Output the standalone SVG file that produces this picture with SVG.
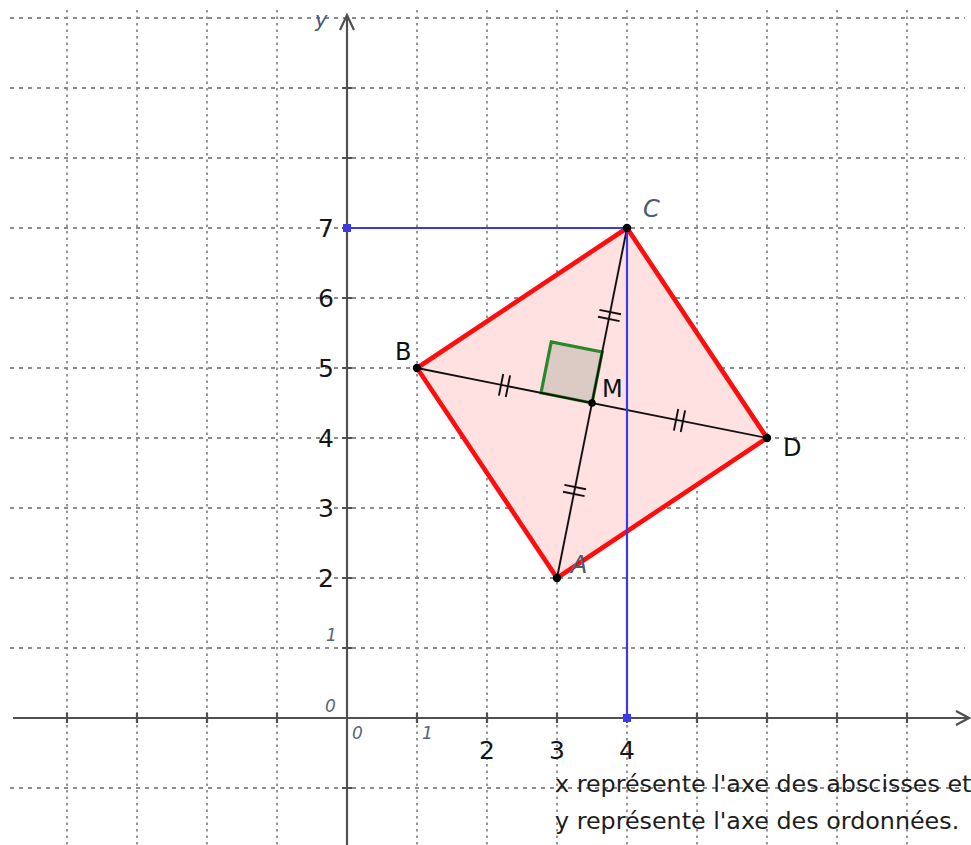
<svg xmlns="http://www.w3.org/2000/svg" width="971" height="845" viewBox="0 0 971 845">
<style>
.gv{stroke:#8c8c8c;stroke-width:1.8;stroke-dasharray:2.5 4;fill:none}
.gh{stroke:#8c8c8c;stroke-width:1.8;stroke-dasharray:4 5;fill:none}
.ax{stroke:#505050;stroke-width:2.2;fill:none}
.tk{stroke:#505050;stroke-width:2.2}
.seg{stroke:#111;stroke-width:1.9;fill:none}
.blue{stroke:#3b3be6;stroke-width:2.2;fill:none}
.num{font-family:"DejaVu Sans","Liberation Sans",sans-serif;font-size:25px;fill:#151515}
.sm{font-family:"DejaVu Sans","Liberation Sans",sans-serif;font-size:17px;font-style:italic;fill:#56657c}
.ital{font-family:"DejaVu Sans","Liberation Sans",sans-serif;font-size:24px;font-style:italic;fill:#4a5b76}
.lbl{font-family:"DejaVu Sans","Liberation Sans",sans-serif;font-size:24px;fill:#111}
.txt{font-family:"DejaVu Sans","Liberation Sans",sans-serif;font-size:23.8px;fill:#1e1e1e}
</style>
<rect width="971" height="845" fill="#ffffff"/>
<g id="grid">
<path class="gv" d="M67 10V845M137 10V845M207 10V845M277 10V845M417 10V845M487 10V845M557 10V845M627 10V845M697 10V845M767 10V845M837 10V845M907 10V845"/>
<path class="gh" d="M10 18H965M10 88H965M10 158H965M10 228H965M10 298H965M10 368H965M10 438H965M10 508H965M10 578H965M10 648H965M10 788H965"/>
</g>
<g id="axes">
<path class="ax" d="M13 718H969M956 711L969 718L956 725"/>
<path class="ax" d="M347 845V15M340 30L347 15L354 30"/>
<path class="tk" d="M67 713V723M137 713V723M207 713V723M277 713V723M417 713V723M487 713V723M557 713V723M627 713V723M697 713V723M767 713V723M837 713V723M907 713V723"/>
<path class="tk" d="M342 88H352M342 158H352M342 228H352M342 298H352M342 368H352M342 438H352M342 508H352M342 578H352M342 648H352M342 788H352"/>
<text class="ital" x="315" y="27" style="font-size:21px">y</text>
<text class="sm" x="325" y="712">0</text>
<text class="sm" x="352" y="739">0</text>
<text class="sm" x="422" y="739">1</text>
<text class="sm" x="326" y="641">1</text>
<g class="num" text-anchor="end">
<text x="334" y="237">7</text>
<text x="334" y="307">6</text>
<text x="334" y="377">5</text>
<text x="334" y="447">4</text>
<text x="334" y="517">3</text>
<text x="334" y="587">2</text>
</g>
<g class="num" text-anchor="middle">
<text x="487" y="759">2</text>
<text x="557" y="759">3</text>
<text x="627" y="759">4</text>
</g>
</g>
<g id="quad-ABCD">
<polygon points="557,578 417,368 627,228 767,438" fill="#ffe1e1" stroke="#ff0d0d" stroke-width="4.6" stroke-linejoin="miter"/>
</g>
<g id="right-angle">
<polygon points="592,403 541.04,392.81 551.23,341.85 602.19,352.04" fill="#dccac4" stroke="#2a882a" stroke-width="3.2"/>
</g>
<g id="connectors">
<path class="seg" d="M557 578L627 228"/>
<path class="seg" d="M417 368L767 438"/>
<path class="seg" d="M564.41 484.91L585.97 489.23M563.03 491.77L584.59 496.09"/>
<path class="seg" d="M599.41 309.91L620.97 314.23M598.03 316.77L619.59 321.09"/>
<path class="seg" d="M510.09 375.41L505.77 396.97M503.23 374.03L498.91 395.59"/>
<path class="seg" d="M685.09 410.41L680.77 431.97M678.23 409.03L673.91 430.59"/>
<path class="blue" d="M347 228H627V718"/>
<rect x="343" y="224" width="8" height="8" fill="#3b3be6"/>
<rect x="623" y="714" width="8" height="8" fill="#3b3be6"/>
</g>
<g id="point-A"><circle cx="557" cy="578" r="4.2" fill="#000"/><text class="ital" x="571" y="573">A</text></g>
<g id="point-B"><circle cx="417" cy="368" r="4.2" fill="#000"/><text class="lbl" x="395" y="360">B</text></g>
<g id="point-C"><circle cx="627" cy="228" r="4.2" fill="#000"/><text class="ital" x="643" y="217">C</text></g>
<g id="point-D"><circle cx="767" cy="438" r="4.2" fill="#000"/><text class="lbl" x="783" y="456">D</text></g>
<g id="point-M"><circle cx="592" cy="403" r="3.8" fill="#000"/><text class="lbl" x="602" y="397">M</text></g>
<g id="caption">
<text class="txt" x="555" y="792">x représente l'axe des abscisses et</text>
<text class="txt" x="555" y="829">y représente l'axe des ordonnées.</text>
</g>
</svg>
